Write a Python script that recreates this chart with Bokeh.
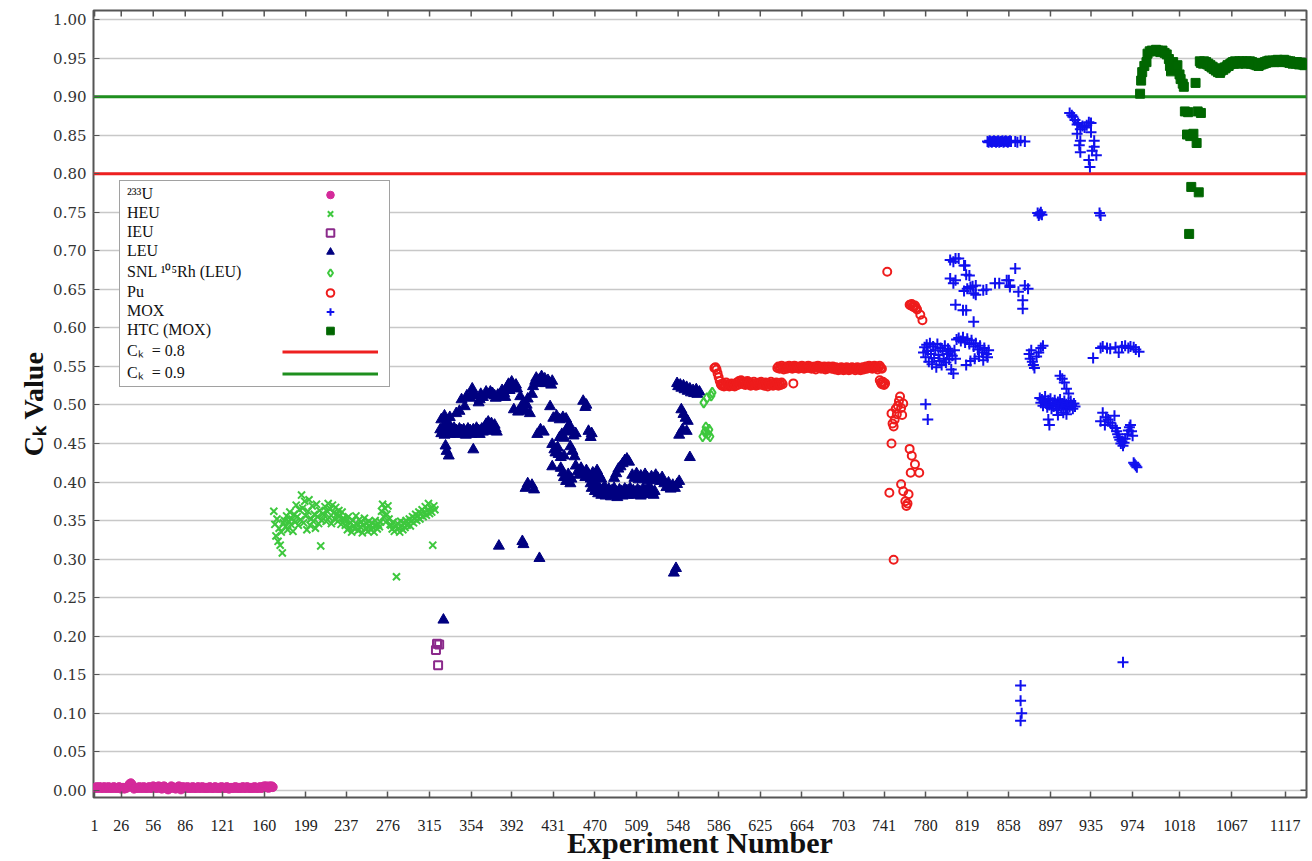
from bokeh.plotting import figure
from bokeh.models import FixedTicker, Legend, LegendItem, Range1d, NumeralTickFormatter
from bokeh.embed import file_html
from bokeh.resources import INLINE

# ---------------- data ----------------
x_ticks = [1, 26, 56, 86, 121, 160, 199, 237, 276, 315, 354, 392, 431, 470, 509,
           548, 586, 625, 664, 703, 741, 780, 819, 858, 897, 935, 974, 1018, 1067, 1117]
y_ticks = [0.00, 0.05, 0.10, 0.15, 0.20, 0.25, 0.30, 0.35, 0.40, 0.45, 0.50,
           0.55, 0.60, 0.65, 0.70, 0.75, 0.80, 0.85, 0.90, 0.95, 1.00]
ck_limits = [0.8, 0.9]

u233_x = list(range(1, 169))
u233_y = [0.003,0.003,0.004,0.003,0.003,0.004,0.003,0.003,0.003,0.004,
          0.003,0.003,0.003,0.004,0.003,0.003,0.003,0.003,0.004,0.003,
          0.003,0.003,0.003,0.004,0.003,0.002,0.003,0.003,0.002,0.003,
          0.003,0.004,0.006,0.008,0.009,0.007,0.004,0.002,0.003,0.003,
          0.003,0.003,0.004,0.003,0.003,0.003,0.004,0.003,0.003,0.003,
          0.003,0.004,0.003,0.003,0.003,0.005,0.004,0.003,0.003,0.003,
          0.005,0.004,0.003,0.002,0.003,0.005,0.004,0.003,0.002,0.001,
          0.003,0.003,0.005,0.004,0.003,0.003,0.002,0.003,0.004,0.005,
          0.003,0.001,0.003,0.004,0.003,0.003,0.003,0.004,0.003,0.003,
          0.003,0.003,0.004,0.003,0.003,0.003,0.003,0.004,0.003,0.003,
          0.003,0.004,0.003,0.003,0.003,0.003,0.003,0.003,0.004,0.003,
          0.003,0.003,0.003,0.004,0.003,0.003,0.003,0.003,0.003,0.004,
          0.003,0.003,0.003,0.003,0.004,0.003,0.002,0.003,0.003,0.003,
          0.003,0.003,0.004,0.003,0.003,0.003,0.003,0.003,0.003,0.004,
          0.003,0.003,0.003,0.004,0.003,0.003,0.003,0.003,0.003,0.003,
          0.004,0.003,0.003,0.003,0.003,0.004,0.003,0.003,0.004,0.005,
          0.004,0.005,0.004,0.003,0.005,0.004,0.005,0.004]

heu_x = list(range(169, 321))
heu_y = [0.362,0.345,0.330,0.352,0.323,0.340,0.318,0.335,0.308,0.347,
         0.350,0.342,0.356,0.338,0.349,0.361,0.345,0.352,0.336,0.358,0.348,0.370,0.355,0.344,0.364,0.351,
         0.383,0.366,0.347,0.375,0.356,0.338,0.362,0.377,0.344,0.352,0.369,0.349,0.358,0.340,0.371,0.355,0.346,0.363,0.317,0.350,0.359,
         0.357,0.368,0.349,0.362,0.372,0.354,0.365,0.346,0.370,0.360,0.352,0.367,0.358,0.349,0.363,0.356,0.345,0.361,0.353,
         0.352,0.344,0.349,0.338,0.355,0.341,0.347,0.335,0.350,0.343,0.339,0.356,0.345,0.337,0.351,0.342,0.348,0.334,0.344,0.353,
         0.340,0.346,0.336,0.349,0.343,0.338,0.347,0.341,0.335,0.350,0.344,0.339,0.345,0.342,0.348,
         0.362,0.371,0.355,0.366,0.348,0.358,0.369,0.352,0.345,
         0.344,0.339,0.348,0.336,0.342,0.277,0.346,0.340,0.335,0.349,0.343,0.338,0.347,0.341,0.350,0.344,
         0.346,0.352,0.343,0.349,0.355,0.347,0.353,0.358,0.350,0.356,0.361,0.352,0.359,0.364,0.355,0.360,
         0.368,0.357,0.363,0.372,0.359,0.366,0.361,0.318,0.369,0.364]

ieu_x = [321, 322, 323, 324]
ieu_y = [0.182, 0.190, 0.162, 0.189]

leu_x = [*range(325, 379),
         326, 329, 332, 334, 340,
         330, 331, 333, 356, 328,
         343,345,348,350,353,355,356,358,361,362,363,365,368,370,372,374,376,377,379,381,
         383,385,386,388,389,390,392,393,394,396,397,398,400,401,403,405,406,407,409,411,
         412,414,415,417,418,420,421,423,424,426,427,429,430,
         405, 407, 411, 413, 380, 402, 403, 418,
         428, 431, 434, 437, 440, 443, 459, 461, 462, 416, 419, 422,
         437, 439, 441, 443, 444, 446, 448, 450, 452, 464, 466, 467,
         430, 432, 433, 435, 436, 438, 441, 447, 449, 451, 430,
         438, 440, 441, 443, 445, 447, 448,
         452, 454, 455, 457, 459, 461, 462, 464, 466, 468, 470, 472, 474, 476,
         *range(466, 527),
         488, 490, 492, 494, 496, 498, 500, 502,
         505, 507, 509, 511, 513, 515, 517, 519, 521, 523, 525, 527, 529, 531, 533,
         535, 537, 539, 541, 543, 545, 547, 549, 544, 546,
         547, 548, 550, 551, 553, 554, 556, 557, 559, 560, 562, 563, 565, 566, 568,
         551, 553, 555, 557, 549, 552, 556, 559]
leu_y = [0.468,0.463,0.470,0.466,0.461,0.467,0.464,0.469,0.465,0.462,
         0.468,0.466,0.463,0.470,0.465,0.467,0.462,0.466,0.469,0.464,
         0.467,0.463,0.468,0.465,0.461,0.466,0.469,0.464,0.467,0.462,
         0.465,0.468,0.463,0.466,0.470,0.464,0.467,0.462,0.466,0.469,
         0.465,0.468,0.472,0.475,0.470,0.478,0.473,0.468,0.476,0.471,
         0.466,0.474,0.469,0.465,
         0.481, 0.486, 0.478, 0.484, 0.489,
         0.447, 0.440, 0.434, 0.442, 0.221,
         0.492,0.507,0.498,0.512,0.509,0.521,0.516,0.512,0.503,0.507,0.514,0.510,0.517,0.513,0.517,
         0.515,0.512,0.509,0.513,0.511,0.519,0.515,0.510,0.524,0.527,0.519,0.530,0.522,0.494,0.526,
         0.521,0.491,0.511,0.496,0.503,0.492,0.500,0.508,0.489,0.514,0.524,0.531,0.535,0.528,0.533,
         0.537,0.530,0.534,0.528,0.532,0.529,0.526,0.531,
         0.392, 0.398, 0.396, 0.390, 0.317, 0.323, 0.319, 0.301,
         0.498, 0.483, 0.486, 0.481, 0.484, 0.482, 0.505, 0.497, 0.500, 0.462, 0.468, 0.465,
         0.458, 0.462, 0.457, 0.465, 0.470, 0.474, 0.466, 0.460, 0.463, 0.466, 0.458, 0.463,
         0.449, 0.442, 0.438, 0.445, 0.436, 0.432, 0.434, 0.446, 0.440, 0.433, 0.420,
         0.418, 0.412, 0.406, 0.401, 0.410, 0.398, 0.404,
         0.421, 0.414, 0.409, 0.418, 0.412, 0.406, 0.415, 0.410, 0.404, 0.412, 0.407, 0.415, 0.409, 0.404,
         0.398,0.392,0.401,0.395,0.388,0.396,0.391,0.385,0.393,0.389,
         0.383,0.390,0.386,0.394,0.382,0.388,0.384,0.391,0.387,0.381,
         0.389,0.385,0.392,0.383,0.387,0.380,0.386,0.390,0.384,0.388,
         0.382,0.386,0.391,0.385,0.389,0.383,0.387,0.392,0.386,0.384,
         0.389,0.383,0.387,0.385,0.390,0.384,0.388,0.382,0.386,0.391,
         0.385,0.389,0.384,0.388,0.393,0.387,0.385,0.390,0.386,0.383,
         0.388,
         0.405, 0.411, 0.417, 0.420, 0.424, 0.428, 0.430, 0.426,
         0.409, 0.405, 0.411, 0.403, 0.408, 0.404, 0.410, 0.406, 0.402, 0.407, 0.403, 0.409, 0.405, 0.401, 0.406,
         0.398, 0.393, 0.399, 0.391, 0.396, 0.392, 0.397, 0.401, 0.282, 0.288,
         0.528, 0.524, 0.526, 0.522, 0.525, 0.520, 0.523, 0.518, 0.521, 0.516, 0.519, 0.515, 0.520, 0.514, 0.517,
         0.494, 0.488, 0.483, 0.479, 0.461, 0.468, 0.466, 0.432]

snl_x = [571, 572, 573, 574, 575, 576, 577, 578, 579, 580]
snl_y = [0.459, 0.503, 0.465, 0.471, 0.509, 0.462, 0.468, 0.459, 0.512, 0.516]

pu_x = [582, 583, 584, 585, 586,
        *range(587, 647), 656,
        *range(641, 740),
        737, 738, 739, 740, 741, 742,
        744, 748, 746, 750,
        748, 749, 750, 751, 752, 753, 754, 755, 756, 757, 758, 759,
        765, 767, 770, 766, 774,
        757, 759, 764, 761, 762, 763,
        765, 766, 767, 768, 769, 770, 771, 772, 775, 777]
pu_y = [0.548, 0.549, 0.546, 0.541, 0.536,
        0.531,0.527,0.525,0.528,0.524,0.526,0.529,0.525,0.527,0.524,
        0.526,0.528,0.525,0.527,0.524,0.526,0.529,0.526,0.531,0.528,
        0.532,0.529,0.527,0.530,0.526,0.528,0.531,0.527,0.529,0.525,
        0.528,0.526,0.530,0.527,0.525,0.528,0.526,0.529,0.527,0.530,
        0.526,0.528,0.525,0.529,0.527,0.524,0.528,0.526,0.530,0.527,
        0.525,0.528,0.526,0.529,0.527,0.525,0.528,0.526,0.529,0.527,
        0.528,
        0.548,0.550,0.547,0.549,0.551,0.548,0.546,0.549,0.550,0.547,
        0.549,0.551,0.548,0.550,0.547,0.549,0.551,0.548,0.550,0.549,
        0.547,0.550,0.548,0.551,0.549,0.547,0.550,0.548,0.549,0.551,
        0.548,0.550,0.547,0.549,0.548,0.550,0.546,0.549,0.551,0.548,
        0.550,0.547,0.549,0.548,0.550,0.546,0.549,0.547,0.550,0.548,
        0.549,0.547,0.550,0.548,0.546,0.549,0.547,0.545,0.548,0.546,
        0.549,0.547,0.545,0.548,0.546,0.549,0.547,0.545,0.548,0.546,
        0.549,0.547,0.548,0.545,0.547,0.549,0.546,0.548,0.545,0.547,
        0.549,0.546,0.548,0.550,0.547,0.549,0.551,0.548,0.550,0.547,
        0.549,0.551,0.548,0.550,0.546,0.549,0.551,0.548,0.547,
        0.532, 0.529, 0.527, 0.530, 0.526, 0.528,
        0.673, 0.450, 0.386, 0.299,
        0.489, 0.476, 0.472, 0.481, 0.495, 0.488, 0.499, 0.505, 0.511, 0.496, 0.487, 0.502,
        0.443, 0.434, 0.423, 0.412, 0.412,
        0.397, 0.388, 0.384, 0.375, 0.369, 0.372,
        0.630, 0.629, 0.631, 0.628, 0.627, 0.629, 0.626, 0.624, 0.617, 0.610]

mox_x = [780, 782,
         *range(778, 809),
         809, 811, 813, 815, 817, 819, 821, 823, 825, 827, 829, 831, 833, 835, 837, 839, 826, 822, 818, 830, 834, 838,
         803, 806, 808, 811, 816, 817, 818, 821, 803, 806, 808, 808, 816, 819, 822, 824, 825, 827,
         827, 815, 818, 825, 834, 837, 845, 849, 856, 858, 859, 859, 864, 867, 871, 873, 876, 871,
         *range(838, 861), 864, 866, 869, 873,
         877, 878, 879, 880, 881, 882, 884, 886, 888, 890,
         885, 886, 887, 888, 889, 943, 944,
         869, 869, 870, 869, 965,
         *range(887, 921), 895, 896, 904, 912,
         906, 908, 910, 912, 914,
         915, 917, 918, 920, 922, 923, 925, 927, 929, 931, 933, 935, 922, 925, 935, 938, 924, 925, 938, 940, 933, 934, 936,
         937, 944, 946, 950, 953, 958, 961, 964, 967, 970, 972, 975, 977, 980,
         944, 946, 948, 949, 951, 953, 955, 957, 958, 959, 960, 961, 962, 963, 964, 965, 966, 967, 969, 970, 971, 972, 973, 974,
         975, 976, 977, 978]
mox_y = [0.501, 0.481,
         0.568,0.575,0.562,0.578,0.570,0.556,0.580,0.566,0.553,0.576,0.561,0.571,0.549,0.579,0.565,0.557,
         0.574,0.552,0.570,0.560,0.577,0.555,0.566,0.573,0.559,0.569,0.546,0.564,0.541,0.571,0.560,
         0.585,0.587,0.583,0.588,0.581,0.586,0.579,0.584,0.576,0.580,0.572,0.577,0.568,0.574,0.566,0.571,
         0.560,0.557,0.552,0.563,0.558,0.562,
         0.688,0.686,0.690,0.690,0.681,0.681,0.669,0.668,0.664,0.658,0.662,0.630,0.648,0.651,0.653,0.654,0.645,0.655,
         0.643,0.623,0.623,0.608,0.649,0.650,0.658,0.658,0.662,0.662,0.655,0.653,0.677,0.647,0.636,0.655,0.651,0.625,
         0.842,0.841,0.843,0.842,0.841,0.842,0.843,0.842,0.841,0.842,0.843,0.841,0.842,0.842,0.843,0.841,
         0.842,0.843,0.842,0.841,0.842,0.843,0.842,0.842,0.841,0.843,0.842,
         0.566, 0.560, 0.571, 0.556, 0.552, 0.548, 0.563, 0.568, 0.574, 0.577,
         0.749, 0.746, 0.748, 0.750, 0.747, 0.749, 0.746,
         0.136, 0.116, 0.100, 0.090, 0.166,
         0.509,0.503,0.507,0.499,0.505,0.511,0.502,0.497,0.506,0.500,
         0.508,0.495,0.503,0.498,0.506,0.501,0.493,0.504,0.499,0.507,
         0.496,0.502,0.490,0.505,0.498,0.501,0.494,0.503,0.497,0.505,
         0.500,0.495,0.502,0.498,0.481,0.474,0.487,0.488,
         0.538, 0.534, 0.529, 0.521, 0.515,
         0.879,0.876,0.874,0.870,0.864,0.866,0.858,0.862,0.860,0.863,0.867,0.866,0.852,0.843,0.854,0.843,
         0.837,0.828,0.835,0.824,0.818,0.809,0.830,
         0.561,0.574,0.576,0.574,0.573,0.575,0.568,0.576,0.577,0.574,0.576,0.575,0.572,0.569,
         0.479,0.490,0.474,0.484,0.481,0.477,0.473,0.486,0.470,0.466,0.462,0.458,0.455,0.450,0.453,
         0.447,0.451,0.456,0.462,0.467,0.471,0.474,0.466,0.460,
         0.425, 0.423, 0.421, 0.419]

htc_x = [981, 982, 983, 985, 987, 988, 990, 992, 994, 996, 998, 1000, 1002, 1004, 1006, 1008,
         1009, 1010, 1012, 1014, 1016, 1018, 1019, 1021, 1022, 1033,
         1023, 1026, 1035, 1038, 1025, 1028, 1031, 1034, 1029, 1036, 1027,
         *range(1037, 1138)]
htc_y = [0.904,0.921,0.932,0.940,0.945,0.956,0.959,0.960,0.959,0.961,0.960,0.958,0.960,0.957,0.955,0.949,
         0.940,0.933,0.945,0.937,0.941,0.929,0.923,0.917,0.913,0.918,
         0.881,0.880,0.881,0.879,0.851,0.849,0.852,0.840,0.783,0.776,0.722,
         0.946,0.944,0.945,0.943,0.946,0.944,0.945,0.942,0.943,0.940,
         0.941,0.938,0.939,0.936,0.937,0.934,0.935,0.932,0.933,0.931,
         0.934,0.936,0.935,0.938,0.937,0.939,0.941,0.940,0.942,0.943,
         0.944,0.945,0.943,0.946,0.944,0.945,0.943,0.946,0.944,0.945,
         0.946,0.944,0.945,0.943,0.946,0.945,0.944,0.946,0.943,0.945,
         0.944,0.942,0.943,0.941,0.942,0.940,0.941,0.943,0.942,0.944,
         0.943,0.945,0.944,0.946,0.945,0.947,0.946,0.945,0.947,0.946,
         0.945,0.947,0.946,0.948,0.946,0.947,0.945,0.947,0.946,0.948,
         0.946,0.947,0.945,0.946,0.944,0.946,0.945,0.943,0.945,0.944,
         0.943,0.945,0.944,0.942,0.944,0.943,0.942,0.944,0.941,0.943,
         0.942]

x_lo, x_hi = 0, 1137
y_lo, y_hi = -0.0095, 1.012

# ---------------- figure ----------------
p = figure(width=1312, height=861, output_backend="svg", toolbar_location=None,
           x_range=Range1d(x_lo, x_hi), y_range=Range1d(y_lo, y_hi),
           min_border_left=93, min_border_right=6, min_border_top=10, min_border_bottom=0,
           background_fill_color="white", border_fill_color="white")
p.outline_line_color = "#555555"
p.outline_line_width = 2

serif = "Liberation Serif"

# x axis (bottom)
xa = p.xaxis[0]
xa.ticker = FixedTicker(ticks=x_ticks)
xa.major_tick_in = 6
xa.major_tick_out = 0
xa.major_tick_line_color = "#555555"
xa.major_tick_line_width = 1.5
xa.minor_tick_line_color = None
xa.axis_line_color = None
xa.major_label_text_font = serif
xa.major_label_text_font_size = "16px"
xa.major_label_text_color = "#222222"
xa.major_label_standoff = 22
xa.axis_label = "Experiment Number"
xa.axis_label_text_font = serif
xa.axis_label_text_font_style = "bold"
xa.axis_label_text_font_size = "30px"
xa.axis_label_text_color = "#111111"
xa.axis_label_standoff = -8

# y axis (left)
ya = p.yaxis[0]
ya.ticker = FixedTicker(ticks=y_ticks)
ya.formatter = NumeralTickFormatter(format="0.00")
ya.major_tick_in = 6
ya.major_tick_out = 0
ya.major_tick_line_color = "#555555"
ya.minor_tick_line_color = None
ya.axis_line_color = None
ya.major_label_text_font = "DejaVu Serif"
ya.major_label_text_font_size = "15px"
ya.major_label_text_color = "#333333"
ya.major_label_standoff = 7
ya.axis_label = "Cₖ Value"
ya.axis_label_text_font = serif
ya.axis_label_text_font_style = "bold"
ya.axis_label_text_font_size = "28px"
ya.axis_label_text_color = "#111111"
ya.axis_label_standoff = 1

p.xgrid.visible = False
p.ygrid.ticker = FixedTicker(ticks=y_ticks)
p.ygrid.grid_line_color = "#c8c8c8"
p.ygrid.grid_line_width = 1.5

# mirrored inward ticks on the top and right edges (half of each dash is clipped by the frame)
p.scatter(x=x_ticks, y=[y_hi] * len(x_ticks), marker="dash", angle=1.5708, size=12,
          line_color="#555555", line_width=1.5)
p.scatter(x=[x_hi] * len(y_ticks), y=y_ticks, marker="dash", size=12,
          line_color="#555555", line_width=1.5)

# threshold lines
r08 = p.segment(x0=[x_lo], y0=[ck_limits[0]], x1=[x_hi], y1=[ck_limits[0]],
                line_color="#ee2020", line_width=3)
r09 = p.segment(x0=[x_lo], y0=[ck_limits[1]], x1=[x_hi], y1=[ck_limits[1]],
                line_color="#1e8f1e", line_width=3)

# series
r_u = p.scatter(u233_x, u233_y, marker="circle", size=9, fill_color="#d42a9a", line_color="#d42a9a")
r_heu = p.scatter(heu_x, heu_y, marker="x", size=10, line_color="#3ec83e", line_width=2)
r_ieu = p.scatter(ieu_x, ieu_y, marker="square", size=8, fill_color=None, line_color="#8b2a8b", line_width=2)
r_leu = p.scatter(leu_x, leu_y, marker="triangle", size=11, fill_color="#000080", line_color="#000080")
r_snl = p.scatter(snl_x, snl_y, marker="diamond", size=10, fill_color=None, line_color="#3ec83e", line_width=2)
r_pu = p.scatter(pu_x, pu_y, marker="circle", size=8, fill_color=None, line_color="#ee1c1c", line_width=2)
r_mox = p.scatter(mox_x, mox_y, marker="cross", size=11, line_color="#1010ee", line_width=2)
r_htc = p.scatter(htc_x, htc_y, marker="square", size=9, fill_color="#006600", line_color="#006600")

labels = ["²³³U", "HEU", "IEU", "LEU", "SNL ¹⁰⁵Rh (LEU)", "Pu", "MOX", "HTC (MOX)",
          "Cₖ  = 0.8", "Cₖ  = 0.9"]
rends = [r_u, r_heu, r_ieu, r_leu, r_snl, r_pu, r_mox, r_htc, r08, r09]

# labels on the left, symbols in a right-hand column (as in the original legend box):
# both legends hold the same items so their rows line up exactly.
common = dict(glyph_height=19, label_height=19, padding=3, spacing=0, margin=0,
              label_text_font=serif, label_text_font_size="16px")
leg_text = Legend(items=[LegendItem(label=l, renderers=[r]) for l, r in zip(labels, rends)],
                  location=(26, 410), glyph_width=0, label_width=259, label_standoff=4,
                  border_line_color="#444444", border_line_width=1.5,
                  background_fill_color="white", background_fill_alpha=1.0,
                  label_text_color="#111111", **common)
leg_glyph = Legend(items=[LegendItem(label=l, renderers=[r]) for l, r in zip(labels, rends)],
                   location=(186, 410), glyph_width=96, label_width=0, label_standoff=0,
                   border_line_alpha=0, background_fill_alpha=0, label_text_alpha=0.0, **common)
p.add_layout(leg_text)
p.add_layout(leg_glyph)

open("out.html", "w").write(file_html(p, INLINE))
